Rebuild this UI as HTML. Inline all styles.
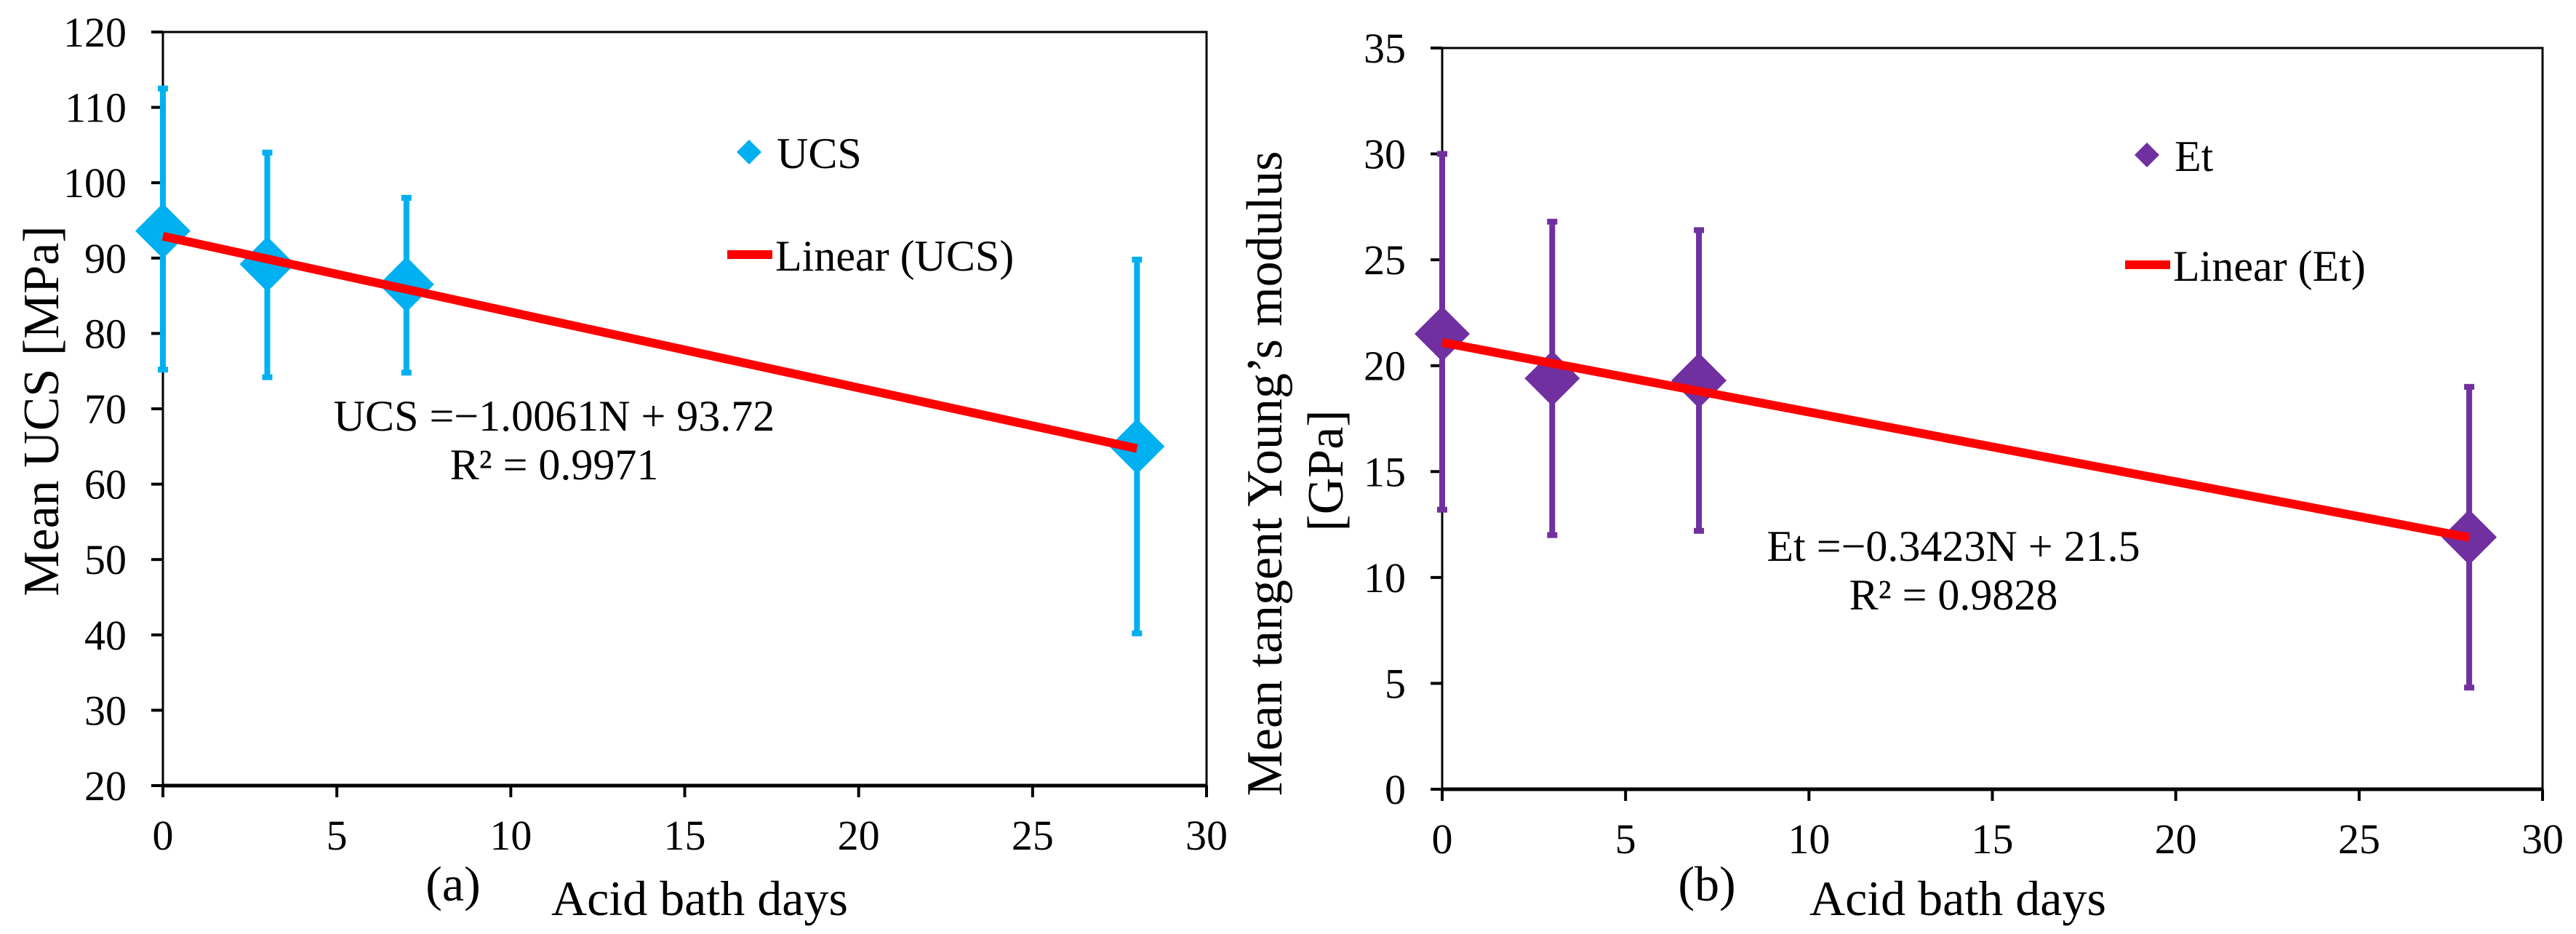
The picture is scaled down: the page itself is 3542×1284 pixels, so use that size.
<!DOCTYPE html>
<html><head><meta charset="utf-8"><style>
html,body{margin:0;padding:0;background:#fff}
svg{display:block}
text{font-family:"Liberation Serif","Times New Roman",serif;fill:#000}
</style></head><body>
<svg id="svg" width="3542" height="1284" viewBox="0 0 3542 1284" xmlns="http://www.w3.org/2000/svg"></svg>
<script>
// ---- Chart (a) data ----
const daysA = [0, 3, 7, 28];
const ucsMean = [93.6, 89.2, 86.5, 65.0];
const ucsLow = [75.2, 74.2, 74.8, 40.2];
const ucsHigh = [112.5, 104.0, 98.0, 89.8];
const ucsTrend = [92.9, -1.0061]; // intercept, slope
const yTicksA = [20, 30, 40, 50, 60, 70, 80, 90, 100, 110, 120];
const xTicks = [0, 5, 10, 15, 20, 25, 30];
// ---- Chart (b) data ----
const daysB = [0, 3, 7, 28];
const etMean = [21.5, 19.4, 19.3, 11.9];
const etLow = [13.2, 12.0, 12.2, 4.8];
const etHigh = [30.0, 26.8, 26.4, 19.0];
const etTrend = [21.1, -0.329];
const yTicksB = [0, 5, 10, 15, 20, 25, 30, 35];

const NS = "http://www.w3.org/2000/svg";
const svg = document.getElementById('svg');
function mk(tag, attrs, parent){
  const e = document.createElementNS(NS, tag);
  for (const k in attrs) e.setAttribute(k, attrs[k]);
  (parent||svg).appendChild(e);
  return e;
}
function txt(s, attrs, parent){ const t = mk('text', attrs, parent); t.textContent = s; return t; }

function chart(o){
  const g = mk('g', {});
  
  
  const sx = v => o.x0 + (v - o.xmin) / (o.xmax - o.xmin) * (o.x1 - o.x0);
  const sy = v => o.yb - (v - o.ymin) / (o.ymax - o.ymin) * (o.yb - o.yt);
  const fr = mk('rect', {x:o.x0, y:o.yt, width:o.x1-o.x0, height:o.yb-o.yt, fill:'none', stroke:'#000', 'stroke-width':3}, g);
  
  
  mk('line', {x1:o.x0, y1:o.yb, x2:o.x1, y2:o.yb, stroke:'#000', 'stroke-width':5}, g);
  o.yTicks.forEach(v => {
    mk('line', {x1:o.x0-16, y1:sy(v), x2:o.x0, y2:sy(v), stroke:'#000', 'stroke-width':4}, g);
    const t = txt(String(v), {x:o.x0-50, y:sy(v)+20, 'text-anchor':'end', 'font-size':58}, g);
    
    
  });
  xTicks.forEach(v => {
    mk('line', {x1:sx(v), y1:o.yb, x2:sx(v), y2:o.yb+16, stroke:'#000', 'stroke-width':4}, g);
    const t = txt(String(v), {x:sx(v), y:o.yb+88, 'text-anchor':'middle', 'font-size':58}, g);
    
    
  });
  o.xs.forEach((d,i) => {
    const eb = mk('g', {}, g);
    
    
    mk('line', {x1:sx(d), y1:sy(o.lo[i]), x2:sx(d), y2:sy(o.hi[i]), stroke:o.color, 'stroke-width':8}, eb);
    mk('line', {x1:sx(d)-7, y1:sy(o.lo[i]), x2:sx(d)+7, y2:sy(o.lo[i]), stroke:o.color, 'stroke-width':8}, eb);
    mk('line', {x1:sx(d)-7, y1:sy(o.hi[i]), x2:sx(d)+7, y2:sy(o.hi[i]), stroke:o.color, 'stroke-width':8}, eb);
  });
  o.xs.forEach((d,i) => {
    const cx = sx(d), cy = sy(o.ys[i]), r = 38;
    const p = mk('polygon', {points:`${cx},${cy-r} ${cx+r},${cy} ${cx},${cy+r} ${cx-r},${cy}`, fill:o.color}, g);
    
    
  });
  const xa = o.xs[0], xb = o.xs[o.xs.length-1];
  const tl = mk('line', {x1:sx(xa), y1:sy(o.trend[0]+o.trend[1]*xa), x2:sx(xb), y2:sy(o.trend[0]+o.trend[1]*xb), stroke:'#ff0000', 'stroke-width':12}, g);
  
  
  const lg = mk('g', {}, g);
  
  
  const lx = o.legX, ly = o.legY, r2 = 17;
  mk('polygon', {points:`${lx},${ly-r2} ${lx+r2},${ly} ${lx},${ly+r2} ${lx-r2},${ly}`, fill:o.color}, lg);
  txt(o.series, {x:lx+38, y:ly+22, 'font-size':60}, lg);
  mk('line', {x1:lx-30, y1:o.legY2, x2:lx+32, y2:o.legY2, stroke:'#ff0000', 'stroke-width':12}, lg);
  txt('Linear (' + o.series + ')', {x:lx+36, y:o.legY2+22, 'font-size':60}, lg);
  const eq = txt(o.eq, {x:o.eqX, y:o.eqY, 'text-anchor':'middle', 'font-size':60}, g);
  
  
  const r2t = txt(o.r2, {x:o.eqX, y:o.eqY+67, 'text-anchor':'middle', 'font-size':60}, g);
  
  
  const pl = txt(o.panel, {x:o.panelX, y:1238, 'text-anchor':'middle', 'font-size':68}, g);
  
  
  const xt = txt('Acid bath days', {x:o.xtX, y:1258, 'font-size':68}, g);
  
  
  return g;
}

chart({name:'chart-a-ucs', x0:224, x1:1659, yt:44, yb:1080, xmin:0, xmax:30, ymin:20, ymax:120,
  yTicks:yTicksA, xs:daysA, ys:ucsMean, lo:ucsLow, hi:ucsHigh, trend:ucsTrend, color:'#00b0f0',
  series:'UCS', legX:1030, legY:209, legY2:350, eq:'UCS =\u22121.0061N + 93.72', r2:'R\u00b2 = 0.9971',
  eqX:762, eqY:592, panel:'(a)', panelX:623, xtX:758});
chart({name:'chart-b-et', x0:1983, x1:3496, yt:66, yb:1085, xmin:0, xmax:30, ymin:0, ymax:35,
  yTicks:yTicksB, xs:daysB, ys:etMean, lo:etLow, hi:etHigh, trend:etTrend, color:'#7030a0',
  series:'Et', legX:2952, legY:213, legY2:364, eq:'Et =\u22120.3423N + 21.5', r2:'R\u00b2 = 0.9828',
  eqX:2686, eqY:771, panel:'(b)', panelX:2347, xtX:2488});

const ya = txt('Mean UCS [MPa]', {x:0, y:0, 'text-anchor':'middle', 'font-size':70, transform:'translate(80,565) rotate(-90)'});


const yb1 = txt('Mean tangent Young\u2019s modulus', {x:0, y:0, 'text-anchor':'middle', 'font-size':70, transform:'translate(1762,651) rotate(-90)'});


const yb2 = txt('[GPa]', {x:0, y:0, 'text-anchor':'middle', 'font-size':70, transform:'translate(1846,647) rotate(-90)'});


</script>
</body></html>
